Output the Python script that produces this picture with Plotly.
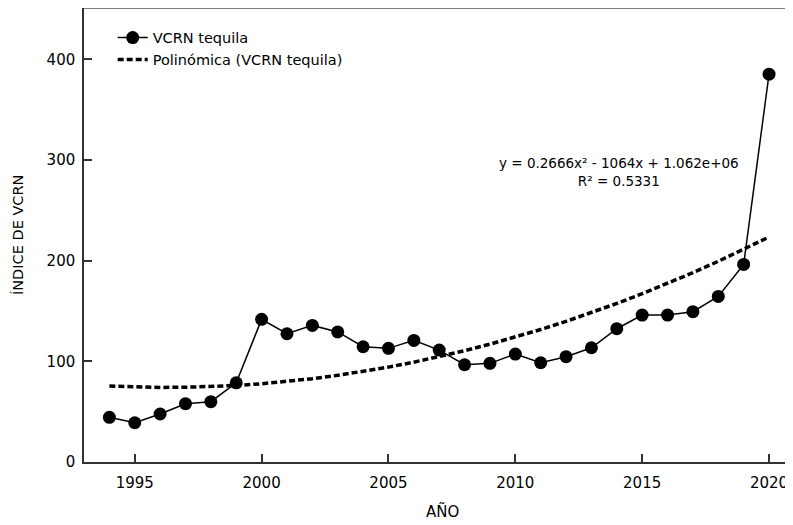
import numpy as np
import plotly.graph_objects as go

years = list(range(1994, 2021))
vcrn = [44.4, 39.0, 47.7, 57.9, 59.9, 78.7, 141.7, 127.4, 135.7, 129.2,
        114.5, 112.9, 120.8, 111.2, 96.6, 98.0, 107.2, 98.6, 104.6, 113.5,
        132.4, 146.0, 146.0, 149.3, 164.5, 196.3, 385.3]

x_ticks = [1995, 2000, 2005, 2010, 2015, 2020]
y_ticks = [0, 100, 200, 300, 400]

# polynomial (order 2) trend line, as in the source chart
coef = np.polyfit(years, vcrn, 2)
trend = np.polyval(coef, years)

FONT = "DejaVu Sans, sans-serif"

fig = go.Figure()
fig.add_trace(go.Scatter(
    x=years, y=vcrn, mode="lines+markers", name="VCRN tequila",
    line=dict(color="black", width=1.5),
    marker=dict(color="black", size=13),
))
fig.add_trace(go.Scatter(
    x=years, y=trend, mode="lines", name="Polinómica (VCRN tequila)",
    line=dict(color="black", width=3.5, dash="6px,3px"),
))

fig.add_annotation(
    x=2014.1, y=288, xref="x", yref="y",
    text="y = 0.2666x² - 1064x + 1.062e+06<br>R² = 0.5331",
    showarrow=False, font=dict(family=FONT, size=13.5, color="black"),
    align="center",
)
# axis titles
fig.add_annotation(x=0.5, y=0, xref="paper", yref="paper", yshift=-49,
                   text="AÑO", showarrow=False, yanchor="middle",
                   font=dict(family=FONT, size=15, color="black"))
fig.add_annotation(x=0, y=0.5, xref="paper", yref="paper", xshift=-66,
                   text="ÍNDICE DE VCRN", showarrow=False, textangle=-90,
                   xanchor="center", yanchor="middle",
                   font=dict(family=FONT, size=14.5, color="black"))

fig.update_layout(
    width=793, height=525,
    margin=dict(l=76, r=0, t=0, b=71, autoexpand=False),
    paper_bgcolor="white", plot_bgcolor="white",
    font=dict(family=FONT, color="black"),
    showlegend=True,
    legend=dict(x=0.040, y=0.970, xanchor="left", yanchor="top",
                bgcolor="rgba(0,0,0,0)", font=dict(family=FONT, size=14.5),
                tracegroupgap=0),
)
fig.update_xaxes(
    range=[1993, 2021.26], tickvals=x_ticks, ticks="inside", ticklen=8,
    tickwidth=1.5, tickcolor="#333", showline=True, linecolor="#333",
    linewidth=1.5, mirror=False, showgrid=False, zeroline=False,
    tickfont=dict(family=FONT, size=15), automargin=False,
    ticklabelstandoff=6,
)
fig.update_yaxes(
    range=[0, 451], tickvals=y_ticks, ticks="inside", ticklen=8,
    tickwidth=1.5, tickcolor="#333", showline=True, linecolor="#333",
    linewidth=1.5, showgrid=False, zeroline=False,
    tickfont=dict(family=FONT, size=15), automargin=False,
    ticklabelstandoff=4,
)
# top frame line
fig.add_shape(type="line", xref="paper", yref="paper", x0=0, x1=1, y0=1, y1=1,
              line=dict(color="#555", width=1.5))

fig.write_html("out.html")
